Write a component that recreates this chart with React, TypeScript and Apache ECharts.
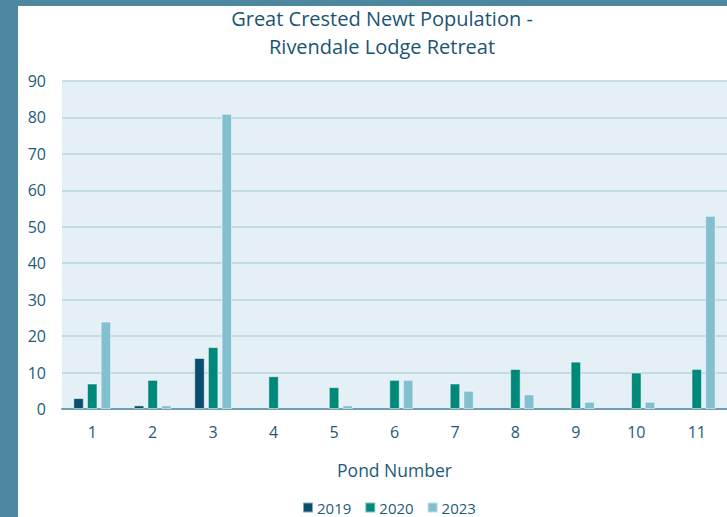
import React, { useEffect, useRef } from "react";
import * as echarts from "echarts";

const categories = ["1", "2", "3", "4", "5", "6", "7", "8", "9", "10", "11"];
const s2019 = [3, 1, 14, 0, 0, 0, 0, 0, 0, 0, 0];
const s2020 = [7, 8, 17, 9, 6, 8, 7, 11, 13, 10, 11];
const s2023 = [24, 1, 81, 0, 1, 8, 5, 4, 2, 2, 53];
const seriesNames = ["2019", "2020", "2023"];
const colors = ["#0a4e6e", "#00897a", "#82bfcf"];

export default function App() {
  const ref = useRef<HTMLDivElement>(null);
  useEffect(() => {
    const chart = echarts.init(ref.current!, undefined, { renderer: "svg" });
    const font = "'Open Sans', 'Noto Sans', sans-serif";
    const textColor = "#1d5b78";
    const data = [s2019, s2020, s2023];
    chart.setOption({
      animation: false,
      backgroundColor: "#4e87a0",
      textStyle: { fontFamily: font },
      graphic: [
        { type: "rect", shape: { x: 18, y: 6, width: 720, height: 520 }, style: { fill: "#ffffff" }, z: -10, silent: true },
      ],
      title: {
        text: "Great Crested Newt Population -\nRivendale Lodge Retreat",
        left: 377,
        textAlign: "center",
        top: -1,
        textStyle: { fontFamily: font, fontSize: 20, fontWeight: "normal", color: "#1a5472", lineHeight: 28 },
      },
      legend: {
        bottom: -3,
        left: 297,
        itemWidth: 10,
        itemHeight: 10,
        itemGap: 13,
        icon: "rect",
        data: seriesNames,
        textStyle: { fontFamily: font, fontSize: 15, color: textColor, padding: [0, 0, 0, -1] },
      },
      grid: {
        left: 62,
        right: -3,
        top: 81,
        bottom: 108,
        show: true,
        backgroundColor: "#e4f0f6",
        borderWidth: 0,
        containLabel: false,
      },
      xAxis: {
        type: "category",
        data: categories,
        name: "Pond Number",
        nameLocation: "middle",
        nameGap: 52,
        nameTextStyle: { fontFamily: font, fontSize: 17.5, color: textColor },
        axisLine: { lineStyle: { color: "#6e9fb5", width: 2 } },
        axisTick: { show: false },
        axisLabel: { fontFamily: font, fontSize: 16, color: textColor, margin: 15 },
      },
      yAxis: {
        type: "value",
        min: 0,
        max: 90,
        interval: 10,
        axisLine: { show: false },
        axisTick: { show: false },
        axisLabel: { fontFamily: font, fontSize: 16, color: textColor, margin: 16 },
        splitLine: { lineStyle: { color: "#b8d5de", width: 1.5 } },
      },
      series: seriesNames.map((n, i) => ({
        name: n,
        type: "bar",
        data: data[i].map((v) => (v === 0 ? "-" : v)),
        barWidth: 10.5,
        barGap: "30%",
        itemStyle: { color: colors[i], borderColor: "rgba(255,255,255,0.5)", borderWidth: 1 },
      })),
    });
    return () => chart.dispose();
  }, []);
  return <div ref={ref} style={{ position: "fixed", left: 0, top: 0, width: 727, height: 517 }} />;
}
